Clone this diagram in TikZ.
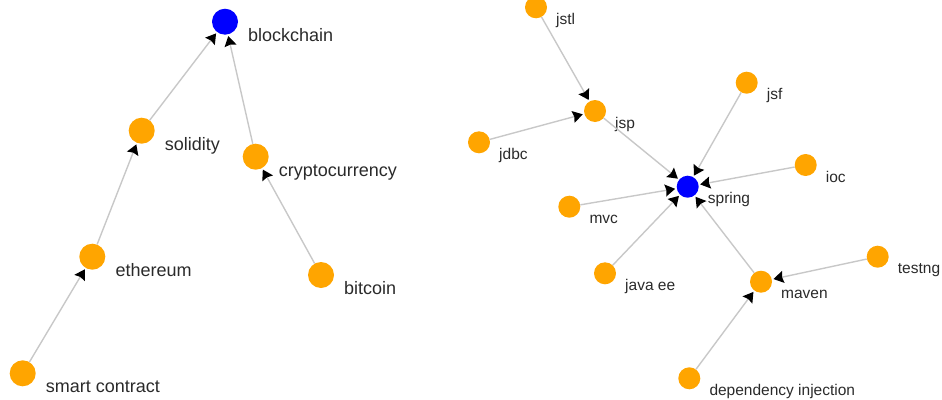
\documentclass[tikz,border=0pt]{standalone}
\usepackage{fontspec}
\setmainfont{Liberation Sans}
\usetikzlibrary{arrows.meta}
\definecolor{nodeorange}{HTML}{FFA500}
\definecolor{nodeblue}{HTML}{0000FF}
\definecolor{edgegray}{HTML}{C8C8C8}
\definecolor{labeltext}{HTML}{2A2A2A}

\begin{document}
\begin{tikzpicture}[x=1pt,y=-1pt,
  bignode/.style={circle,inner sep=0pt,minimum size=26pt,fill=nodeorange},
  smallnode/.style={circle,inner sep=0pt,minimum size=22pt,fill=nodeorange},
  hub/.style={fill=nodeblue},
  biglabel/.style={anchor=base west,inner sep=0pt,text=labeltext,font=\fontsize{18}{20}\selectfont},
  smalllabel/.style={anchor=base west,inner sep=0pt,text=labeltext,font=\fontsize{15.5}{18}\selectfont},
  link/.style={draw=edgegray,line width=1.4pt,shorten >=1.5pt,
    -{Stealth[black,length=10pt,width=12pt,inset=1.2pt]}}
]
\useasboundingbox (0,0) rectangle (942,399);

% ---- blockchain cluster ----
\node[bignode,hub] (blockchain) at (225,21.7) {};
\node[bignode] (solidity)       at (141.7,130.7) {};
\node[bignode] (cryptocurrency) at (255.7,156.7) {};
\node[bignode] (ethereum)       at (92.3,256.7) {};
\node[bignode] (bitcoin)        at (321,275) {};
\node[bignode] (smartcontract)  at (22.7,373.3) {};

\foreach \n/\t in {blockchain/blockchain, solidity/solidity,
  cryptocurrency/cryptocurrency, ethereum/ethereum, bitcoin/bitcoin,
  smartcontract/smart contract}
  \node[biglabel] (lbl-\n) at ([shift={(23,19.5)}]\n.center) {\t};

\draw[link] (solidity) -- (blockchain);
\draw[link] (cryptocurrency) -- (blockchain);
\draw[link] (ethereum) -- (solidity);
\draw[link] (bitcoin) -- (cryptocurrency);
\draw[link] (smartcontract) -- (ethereum);

% ---- spring cluster ----
\node[smallnode,hub] (spring) at (687.7,186.7) {};
\node[smallnode] (jstl)   at (536,7.3) {};
\node[smallnode] (jsp)    at (595,111) {};
\node[smallnode] (jdbc)   at (479,142.3) {};
\node[smallnode] (jsf)    at (746.7,82.7) {};
\node[smallnode] (ioc)    at (805.7,165) {};
\node[smallnode] (mvc)    at (569.3,206.7) {};
\node[smallnode] (javaee) at (605,273.3) {};
\node[smallnode] (maven)  at (761,281.7) {};
\node[smallnode] (testng) at (877.7,256.7) {};
\node[smallnode] (depinj) at (689.3,378.3) {};

\foreach \n/\t in {spring/spring, jstl/jstl, jsp/jsp, jdbc/jdbc, jsf/jsf,
  ioc/ioc, mvc/mvc, javaee/java ee, maven/maven, testng/testng,
  depinj/dependency injection}
  \node[smalllabel] (lbl-\n) at ([shift={(20,17)}]\n.center) {\t};

\draw[link] (jstl) -- (jsp);
\draw[link] (jdbc) -- (jsp);
\draw[link] (jsp) -- (spring);
\draw[link] (jsf) -- (spring);
\draw[link] (ioc) -- (spring);
\draw[link] (mvc) -- (spring);
\draw[link] (javaee) -- (spring);
\draw[link] (maven) -- (spring);
\draw[link] (testng) -- (maven);
\draw[link] (depinj) -- (maven);
\end{tikzpicture}
\end{document}
